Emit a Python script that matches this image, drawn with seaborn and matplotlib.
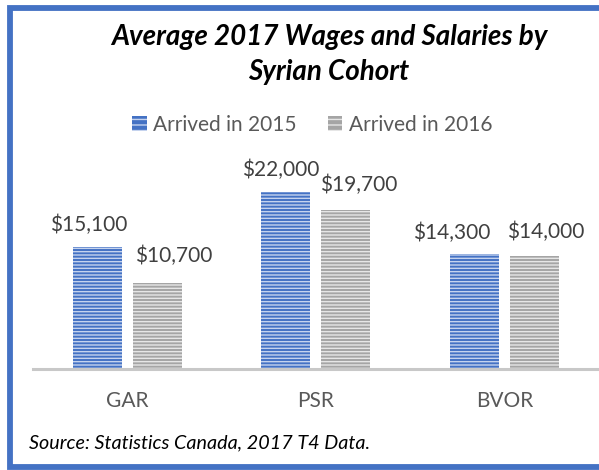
import numpy as np
import pandas as pd
import seaborn as sns
import matplotlib.pyplot as plt
from matplotlib.patches import Patch
from matplotlib.lines import Line2D

# Data
cohorts = ["GAR", "PSR", "BVOR"]
arrivals = ["Arrived in 2015", "Arrived in 2016"]
wages_2015 = [15100, 22000, 14300]
wages_2016 = [10700, 19700, 14000]
value_labels_2015 = ["$15,100", "$22,000", "$14,300"]
value_labels_2016 = ["$10,700", "$19,700", "$14,000"]

df = pd.DataFrame({
    "cohort": cohorts * 2,
    "arrival": [arrivals[0]] * 3 + [arrivals[1]] * 3,
    "wage": wages_2015 + wages_2016,
    "label": value_labels_2015 + value_labels_2016,
})

sns.set_theme(style="white")
plt.rcParams["font.family"] = ["Lato", "DejaVu Sans"]
plt.rcParams["hatch.linewidth"] = 1.0

bar_colors = ["#4472C4", "#A5A5A5"]
stripe_colors = ["#C5D3EE", "#E6E6E6"]

fig = plt.figure(figsize=(5.99, 4.70), dpi=100)
ax = fig.add_axes([0.0551, 0.2149, 0.9441, 0.4287])

sns.barplot(data=df, x="cohort", y="wage", hue="arrival", palette=bar_colors,
            width=0.64, gap=0.19, saturation=1, legend=False, ax=ax)

# label nudges (pixels) to mimic the staggered placement in the original
nudges = [[(-8, 22), (-5, 22), (-22, 21)],
          [(16, 27), (13, 25), (11, 24)]]

for i, cont in enumerate(ax.containers):
    labels = df[df["arrival"] == arrivals[i]]["label"].tolist()
    for j, bar in enumerate(cont):
        bar.set_hatch("-----")
        bar.set_edgecolor(stripe_colors[i])
        bar.set_linewidth(0)
        x = bar.get_x() + bar.get_width() / 2
        y = bar.get_height()
        ax.annotate(labels[j], xy=(x, y), xytext=nudges[i][j],
                    textcoords="offset pixels", ha="center", va="center",
                    fontsize=15, color="#404040")

ax.set_xlim(-0.5, 2.5)
ax.set_ylim(0, 25000)
ax.set_xlabel("")
ax.set_ylabel("")
ax.set_yticks([])
ax.tick_params(axis="x", length=0, pad=16, labelsize=15, labelcolor="#595959")
sns.despine(ax=ax, left=True)
ax.spines["bottom"].set_color("#C8C8C8")
ax.spines["bottom"].set_linewidth(2.2)

handles = [Patch(facecolor=bar_colors[k], edgecolor=stripe_colors[k], hatch="---",
                 linewidth=0, label=arrivals[k]) for k in range(2)]
fig.legend(handles=handles, loc="center", bbox_to_anchor=(0.521, 0.734), ncol=2,
           frameon=False, fontsize=15, labelcolor="#595959", handlelength=0.7,
           handleheight=0.7, handletextpad=0.3, columnspacing=1.5)

fig.text(0.549, 0.884, "Average 2017 Wages and Salaries by\nSyrian Cohort",
         ha="center", va="center", fontsize=20, fontweight="bold",
         fontstyle="italic", color="black", linespacing=1.4)

fig.text(0.048, 0.057, "Source: Statistics Canada, 2017 T4 Data.", ha="left",
         va="center", fontsize=14.2, fontstyle="italic", color="black")

# blue frame around the chart (open on the right, as in the cropped original)
fig.add_artist(Line2D([1.0, 10 / 599, 10 / 599, 1.0],
                      [1 - 7.5 / 470, 1 - 7.5 / 470, 3 / 470, 3 / 470],
                      transform=fig.transFigure, color="#4472C4", linewidth=4.2,
                      solid_joinstyle="miter"))

fig.savefig("out.png", dpi=100)
